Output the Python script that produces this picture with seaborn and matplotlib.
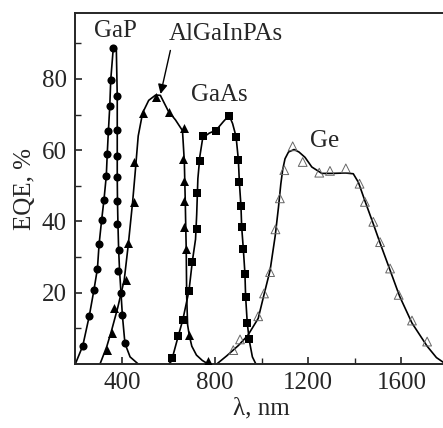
import numpy as np
import pandas as pd
import matplotlib
matplotlib.use("Agg")
import matplotlib.pyplot as plt
import seaborn as sns

# --- data (wavelength nm, EQE %) ---
# measured points
gap_x = [232, 260, 280, 295, 302, 313, 323, 333, 337, 342, 348, 352, 363,
         380, 380, 380, 380, 378, 380, 388, 385, 396, 402, 413]
gap_y = [5.1, 13.5, 20.8, 26.8, 33.6, 40.4, 46.1, 52.8, 58.9, 65.4, 72.4, 79.7, 88.7,
         75.2, 65.8, 58.3, 52.5, 45.8, 39.3, 32.0, 26.2, 20.0, 13.7, 5.8]

alg_x = [335, 356, 367, 418, 428, 452, 452, 489, 545, 600, 666, 664, 666, 667, 668, 675, 689, 768]
alg_y = [3.9, 8.8, 15.8, 23.6, 33.9, 45.5, 56.7, 70.5, 75.0, 70.8, 66.1, 57.4, 51.3, 45.7, 38.5, 32.4, 8.1, 0.8]

gaas_x = [616, 642, 661, 688, 702, 721, 721, 735, 747, 804, 860, 890, 900, 904, 911, 914,
          921, 928, 931, 938, 947]
gaas_y = [1.6, 7.9, 12.3, 20.6, 28.7, 38.0, 47.9, 57.0, 64.0, 65.4, 69.6, 63.8, 57.2, 51.1, 44.3, 38.5,
          32.4, 25.4, 18.9, 11.5, 7.0]

ge_x = [878, 907, 985, 1010, 1036, 1059, 1078, 1097, 1133, 1176, 1247, 1293, 1361,
        1420, 1443, 1479, 1508, 1551, 1588, 1645, 1710]
ge_y = [3.9, 6.9, 13.4, 19.8, 25.8, 37.8, 46.5, 54.4, 61.1, 56.7, 53.7, 54.2, 54.9,
        50.6, 45.5, 39.9, 34.2, 26.8, 19.4, 12.2, 6.3]

# fitted curves as drawn
gap_cx = [200, 232, 260, 280, 295, 302, 313, 323, 333, 337, 342, 348, 352, 363, 376,
          380, 380, 380, 381, 383, 386, 390, 396, 402, 413, 435, 470]
gap_cy = [0, 5.1, 13.5, 20.8, 26.8, 33.6, 40.4, 46.1, 52.8, 58.9, 65.4, 72.4, 79.7, 88.7, 88.5,
          75.2, 65.8, 52.5, 45.8, 39.3, 32.0, 26.2, 20.0, 13.7, 5.8, 2.0, 0]

alg_cx = [306, 335, 356, 382, 410, 428, 446, 456, 470, 489, 515, 545, 565, 599, 630, 660,
          668, 670, 672, 674, 676, 678, 682, 689, 700, 720, 745, 770]
alg_cy = [0, 4.9, 9.5, 15.8, 23.6, 33.9, 45.5, 53.0, 64.0, 70.5, 74.0, 75.5, 75.4, 71.0, 68.5, 65.5,
          56.7, 51.0, 45.5, 38.5, 32.4, 19.0, 11.0, 8.1, 5.0, 2.5, 1.0, 0]

gaas_cx = [606, 616, 642, 661, 688, 702, 716, 721, 726, 735, 747, 775, 804, 835, 860, 875,
           890, 900, 904, 911, 914, 921, 928, 931, 938, 947, 960, 975]
gaas_cy = [0, 1.6, 7.9, 12.3, 20.6, 28.7, 35.0, 42.0, 52.0, 58.5, 63.5, 64.8, 65.6, 68.0, 69.8, 67.5,
           63.8, 57.2, 51.1, 44.3, 38.5, 32.4, 25.4, 18.9, 11.5, 6.5, 2.0, 0]

ge_cx = [807, 850, 900, 940, 985, 1010, 1036, 1058, 1072, 1082, 1090, 1100, 1115, 1139, 1160,
         1186, 1215, 1258, 1300, 1360, 1393, 1415, 1443, 1478, 1510, 1550, 1592, 1645, 1710, 1750, 1790]
ge_cy = [0, 2.3, 5.2, 8.0, 12.8, 19.5, 26.3, 36.0, 44.0, 50.5, 54.5, 57.6, 59.5, 60.2, 59.5,
         58.0, 55.3, 53.5, 53.5, 53.6, 53.4, 51.0, 45.8, 39.5, 33.6, 26.5, 19.0, 11.5, 5.0, 1.8, 0]

labels = ["GaP", "AlGaInPAs", "GaAs", "Ge"]
label_pos = [(372, 93.5), (845, 92.5), (820, 75.5), (1272, 62.5)]

# --- figure ---
sns.set_style("ticks")
plt.rcParams['font.family'] = ['Liberation Serif', 'DejaVu Serif']
plt.rcParams['mathtext.fontset'] = 'stix'
plt.rcParams['xtick.direction'] = 'in'
plt.rcParams['ytick.direction'] = 'in'

fig = plt.figure(figsize=(4.43, 4.28), dpi=100)
ax = fig.add_axes([0.170, 0.1495, 0.8415, 0.820])

curves = [(gap_cx, gap_cy), (alg_cx, alg_cy), (gaas_cx, gaas_cy), (ge_cx, ge_cy)]
for cx, cy in curves:
    sns.lineplot(x=cx, y=cy, sort=False, estimator=None, color='black', lw=1.2, ax=ax)

sns.scatterplot(x=gap_x, y=gap_y, marker='o', s=34, color='black', linewidth=0, ax=ax, zorder=3)
sns.scatterplot(x=alg_x, y=alg_y, marker='^', s=42, color='black', linewidth=0, ax=ax, zorder=3)
sns.scatterplot(x=gaas_x, y=gaas_y, marker='s', s=26, color='black', linewidth=0, ax=ax, zorder=3)
ax.scatter(ge_x, ge_y, marker='^', s=40, facecolors='none', edgecolors='0.4', linewidths=0.7, zorder=3)

for name, (tx, ty) in zip(labels, label_pos):
    ax.text(tx, ty, name, fontsize=18, ha='center', va='center')

# arrow from AlGaInPAs label to its peak
ax.annotate("", xy=(566, 75.8), xytext=(608, 88),
            arrowprops=dict(arrowstyle='-|>', color='black', lw=1.0, mutation_scale=14,
                            shrinkA=0, shrinkB=0))

ax.set_xlim(200, 1800)
ax.set_ylim(0, 98.5)
ax.set_xticks([400, 800, 1200, 1600])
ax.set_xticks([600, 1000, 1400], minor=True)
ax.set_yticks([20, 40, 60, 80])
ax.set_yticks([10, 30, 50, 70, 90], minor=True)
ax.tick_params(which='major', length=5, width=1.2, labelsize=18, pad=6)
ax.tick_params(which='minor', length=4, width=1.0)
for s in ax.spines.values():
    s.set_linewidth(1.4)

ax.set_xlabel("λ, nm", fontsize=18, labelpad=2)
ax.set_ylabel("EQE, %", fontsize=18, labelpad=4)

fig.savefig("out.png", dpi=100)
